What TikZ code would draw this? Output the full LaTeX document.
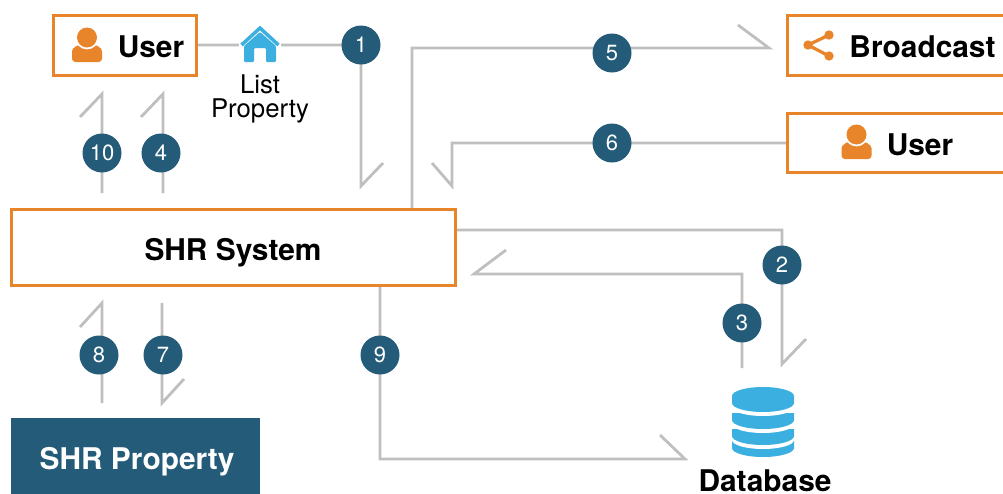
\documentclass[tikz,border=0pt]{standalone}
\usepackage{fontspec}
\setmainfont{TeX Gyre Heros}
\usetikzlibrary{backgrounds}
\definecolor{shrorange}{HTML}{E8842A}
\definecolor{shrteal}{HTML}{245B78}
\definecolor{shrgrey}{HTML}{BFBFBF}
\definecolor{shrblue}{HTML}{3BAFDF}
\tikzset{
  x=0.75pt,y=-0.75pt,
  boxnode/.style={draw=shrorange,line width=2.4pt,fill=none,inner sep=0pt,outer sep=0pt},
  solidbox/.style={fill=shrteal,draw=none,inner sep=0pt,outer sep=0pt},
  badge/.style={circle,fill=shrteal,draw=none,inner sep=0pt,minimum size=29.25pt,text=white,font=\fontsize{16.5}{18}\selectfont},
  title/.style={font=\fontsize{22.4}{24}\bfseries\selectfont,anchor=base,inner sep=0pt,text=black},
  conn/.style={draw=shrgrey,line width=2.1pt,line join=miter,miter limit=10},
  personicon/.pic={
    \fill[shrorange,rounded corners=2.5pt] (-15,24.5) -- (15,24.5) -- (15,17) .. controls (15,10) and (8,6.5) .. (0,6.5) .. controls (-8,6.5) and (-15,10) .. (-15,17) -- cycle;
    \fill[white] (0,0) circle (8.9pt);
    \fill[shrorange] (0,0) circle (7.5pt);
  }
}
\begin{document}
\begin{tikzpicture}
\path[use as bounding box,clip] (0,0) rectangle (1003,493);
% boxes
\node[boxnode,minimum width=107.25pt,minimum height=45pt] (userA) at (125,45.5) {};
\node[boxnode,minimum width=333pt,minimum height=57pt] (sys) at (233.5,247.5) {};
\node[boxnode,minimum width=170.6pt,minimum height=45pt] (broad) at (901.25,45.5) {};
\node[boxnode,minimum width=170.6pt,minimum height=44.25pt] (userB) at (901.25,143) {};
\node[solidbox,minimum width=186.75pt,minimum height=69pt] (prop) at (135.5,464) {};
% labels
\node[title] (tUserA) at (151,57) {User};
\node[title] (tSys) at (233,260) {SHR System};
\node[title] (tBroad) at (922.5,57) {Broadcast};
\node[title] (tUserB) at (920,155) {User};
\node[title,text=white] (tProp) at (137,469) {SHR Property};
\node[title] (tDb) at (765,491) {Database};
\node[align=center,inner sep=0pt,font=\fontsize{19.3}{18}\selectfont] (tList) at (260,98.5) {List\\Property};
% badges
\node[badge] (b1) at (361,45) {1};
\node[badge] (b2) at (782,265) {2};
\node[badge] (b3) at (742,323) {3};
\node[badge] (b4) at (161,153) {4};
\node[badge] (b5) at (612,53) {5};
\node[badge] (b6) at (612,143) {6};
\node[badge] (b7) at (163,355) {7};
\node[badge] (b8) at (99,355) {8};
\node[badge] (b9) at (380,355) {9};
\node[badge] (b10) at (102,153) {10};
% connector free ends
\coordinate (k1) at (361,186);   \coordinate (h1) at (383,163);
\coordinate (s5) at (412,48);    \coordinate (k5) at (769,48);   \coordinate (h5) at (738,25);
\coordinate (c6) at (452,143);   \coordinate (k6) at (452,186);  \coordinate (h6) at (432,163);
\coordinate (c2) at (782,230);   \coordinate (k2) at (782,364);  \coordinate (h2) at (806,339);
\coordinate (s3) at (742,368);   \coordinate (c3) at (742,274);  \coordinate (k3) at (474,274); \coordinate (h3) at (506,250);
\coordinate (c9) at (380,459);   \coordinate (k9) at (685,459);  \coordinate (h9) at (660,435);
\coordinate (s10) at (102,193);  \coordinate (k10) at (102,94);  \coordinate (h10) at (80,117);
\coordinate (s4) at (163,193);   \coordinate (k4) at (163,94);   \coordinate (h4) at (141,117);
\coordinate (s8) at (102,403);   \coordinate (k8) at (102,303);  \coordinate (h8) at (80,327);
\coordinate (s7) at (162,303);   \coordinate (k7) at (162,403);  \coordinate (h7) at (184,379);
% connectors, behind the badges
\begin{scope}[on background layer]
\draw[conn] (userA.east |- b1) -- (b1.center) -- (k1) -- (h1);
\draw[conn] (sys.north -| s5) -- (s5) -- (k5) -- (h5);
\draw[conn] (userB.west) -- (c6) -- (k6) -- (h6);
\draw[conn] (sys.east |- c2) -- (c2) -- (k2) -- (h2);
\draw[conn] (s3) -- (c3) -- (k3) -- (h3);
\draw[conn] (sys.south -| c9) -- (c9) -- (k9) -- (h9);
\draw[conn] (s10) -- (k10) -- (h10);
\draw[conn] (s4) -- (k4) -- (h4);
\draw[conn] (s8) -- (k8) -- (h8);
\draw[conn] (s7) -- (k7) -- (h7);
\end{scope}
% person icons
\pic at (87,37.5) {personicon};
\pic at (856.5,134.5) {personicon};
% house icon
\fill[white] (239,26) rectangle (281,63);
\fill[shrblue,rounded corners=0.8pt] (244,62) -- (244,46) -- (260,32) -- (276,46) -- (276,62) -- (266,62) -- (266,48) -- (254,48) -- (254,62) -- cycle;
\draw[shrblue,line width=2.6pt,line join=miter] (241.5,45) -- (260,28) -- (278.5,45);
% share icon
\draw[shrorange,line width=2.4pt] (829,35) -- (808,45) -- (829,56);
\fill[shrorange] (829,35) circle (3.5pt) (808,45) circle (3.5pt) (829,56) circle (3.5pt);
% database icon
\foreach \yb in {448,436,420,403}{
  \fill[white] (732,\yb-3) -- (732,\yb+4) arc[start angle=180,end angle=0,x radius=31,y radius=9] -- (794,\yb-3) -- cycle;
  \fill[shrblue] (732,\yb-7) -- (732,\yb) arc[start angle=180,end angle=0,x radius=31,y radius=9] -- (794,\yb-7) -- cycle;
}
\fill[shrblue] (763,396) ellipse[x radius=31,y radius=9];
\end{tikzpicture}
\end{document}
